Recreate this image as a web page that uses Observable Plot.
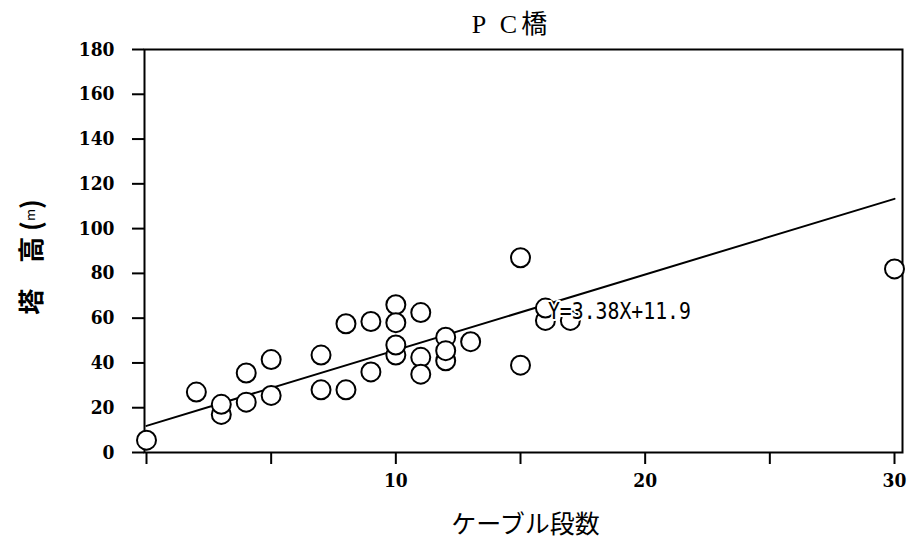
<!DOCTYPE html>
<html>
<head>
<meta charset="utf-8">
<script src="https://cdn.jsdelivr.net/npm/d3@7"></script>
<script src="https://cdn.jsdelivr.net/npm/@observablehq/plot@0.6"></script>
<style>
  html, body { margin: 0; padding: 0; background: #fff; }
  #chart svg { display: block; background: #fff; }
</style>
</head>
<body>
<div id="chart"></div>
<script>
// PC cable-stayed bridges: number of cable tiers vs. tower height (m)
const cableTiers = [0, 2, 3, 3, 4, 4, 5, 5, 7, 7, 8, 8, 9, 9, 10, 10, 10, 10, 11, 11, 11, 12, 12, 12, 13, 15, 15, 16, 16, 17, 30];
const towerHeight = [5.5, 27, 17, 21.5, 35.5, 22.5, 41.5, 25.5, 43.5, 28, 57.5, 28, 58.5, 36, 66, 58, 43.5, 48, 62.5, 42.5, 35, 51.5, 41, 45.5, 49.5, 87, 39, 59, 64.5, 59, 82];

// Regression fit printed on the chart
const slope = 3.38;
const intercept = 11.9;
const fitRange = [0, 30];

const xTicks = [0, 5, 10, 15, 20, 25, 30];
const xTickLabels = ["", "", "10", "", "20", "", "30"];
const yTicks = [0, 20, 40, 60, 80, 100, 120, 140, 160, 180];

const points = cableTiers.map((x, i) => ({x, y: towerHeight[i]}));
const fit = fitRange.map(x => ({x, y: intercept + slope * x}));
const eqText = `Y=${slope}X+${intercept}`;

const tickFont = {
  fontFamily: "'DejaVu Serif Condensed', 'Liberation Serif', serif",
  fontSize: 19,
  fontWeight: "bold"
};

const svg = Plot.plot({
  width: 908,
  height: 544,
  marginLeft: 144,
  marginRight: 6,
  marginTop: 49,
  marginBottom: 92,
  style: {background: "#fff", color: "#000"},
  x: {domain: [0, 30], range: [146, 894]},
  y: {domain: [0, 180], range: [452, 49]},
  marks: [
    Plot.frame({stroke: "#000", strokeWidth: 2}),
    Plot.axisX({
      ticks: xTicks,
      tickFormat: d => xTickLabels[xTicks.indexOf(d)],
      tickSize: 12,
      tickPadding: 9,
      strokeWidth: 2,
      label: null,
      ...tickFont
    }),
    Plot.axisY({
      ticks: yTicks,
      tickSize: 12,
      tickPadding: 18,
      strokeWidth: 2,
      label: null,
      ...tickFont
    }),
    Plot.line(fit, {x: "x", y: "y", stroke: "#000", strokeWidth: 2}),
    Plot.dot(points, {x: "x", y: "y", r: 9.5, stroke: "#000", fill: "#fff", strokeWidth: 2}),
    Plot.text([eqText], {
      x: () => 16.1, y: () => 62.8, text: d => d,
      textAnchor: "start",
      fontFamily: "'DejaVu Sans Mono', monospace",
      fontSize: 23,
      fill: "#000",
      stroke: "#fff",
      strokeWidth: 4,
      className: "fit-eq"
    }),
    Plot.text(["P C橋"], {
      frameAnchor: "top", dx: -12, dy: -25, lineAnchor: "middle",
      fontFamily: "'Liberation Serif', 'Noto Sans CJK JP', serif",
      fontSize: 26,
      fill: "#000",
      className: "chart-title"
    }),
    Plot.text(["ケーブル段数"], {
      frameAnchor: "bottom", dx: 2, dy: 72, lineAnchor: "middle",
      fontFamily: "'Noto Sans CJK JP', sans-serif",
      fontSize: 25,
      fill: "#000"
    })
  ]
});

// Narrow, tall lettering for the fit equation
d3.select(svg).selectAll(".fit-eq text")
  .attr("textLength", 143)
  .attr("lengthAdjust", "spacingAndGlyphs");

d3.select(svg).selectAll(".chart-title text")
  .attr("letter-spacing", 4);

// Vertical axis title, with a small unit letter
const yLabel = d3.select(svg).append("text")
  .attr("transform", "translate(29,257) rotate(-90)")
  .attr("text-anchor", "middle")
  .attr("dominant-baseline", "central")
  .attr("font-family", "'Noto Sans CJK JP', sans-serif")
  .attr("font-size", 26)
  .attr("font-weight", "bold")
  .attr("fill", "#000");
yLabel.append("tspan").text("塔　高 (");
yLabel.append("tspan").attr("font-size", 13).attr("font-weight", "normal").text("m");
yLabel.append("tspan").text(")");

document.getElementById("chart").appendChild(svg);
</script>
</body>
</html>
